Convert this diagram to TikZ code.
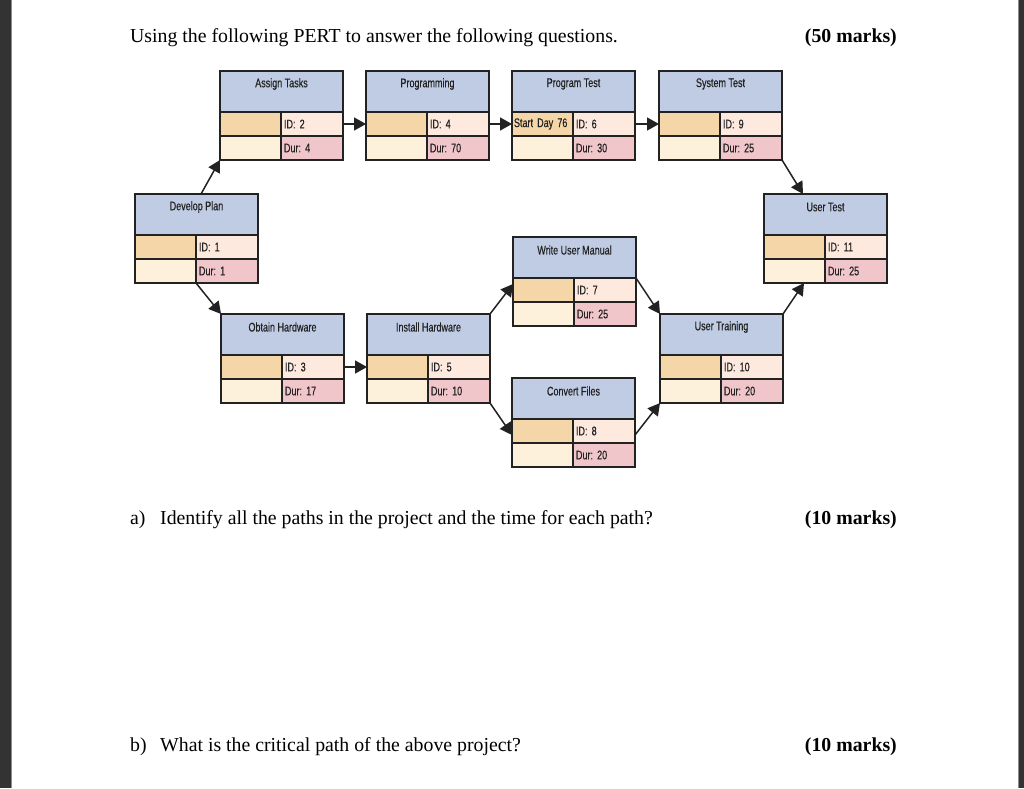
\documentclass[tikz,border=0pt]{standalone}
\usepackage{fontspec}
\setmainfont{Liberation Serif}
\newfontfamily\boxfont[FakeStretch=0.72,FakeBold=0.4]{Liberation Sans}
\newcommand\pertfnt{\boxfont\frenchspacing\fontsize{12.5}{13}\selectfont\spaceskip 0.2em\relax}
\usetikzlibrary{arrows.meta,calc}
\definecolor{hdr}{HTML}{BFCCE4}
\definecolor{idl}{HTML}{F5D6A8}
\definecolor{idr}{HTML}{FDE9DD}
\definecolor{durl}{HTML}{FEF1DC}
\definecolor{durr}{HTML}{F1C6CB}
\definecolor{edge}{HTML}{333333}
\definecolor{ink}{HTML}{222222}
\newcommand\pertbox[7]{%
  \node[hdrbox] (#1-h) at (#2,#3) {};
  \node[ttl] (#1-t) at ([yshift=-13pt]#1-h.north) {#4};
  \node[lcell,fill=idl] (#1-l1) at (#1-h.south west) {#7};
  \node[rcell,fill=idr] (#1-r1) at (#1-l1.north east) {ID: #5};
  \node[lcell,fill=durl] (#1-l2) at (#1-l1.south west) {};
  \node[rcell,fill=durr] (#1-r2) at (#1-l2.north east) {Dur: #6};
}
\begin{document}
\begin{tikzpicture}[x=1pt,y=-1pt,
  boxfnt/.style={font=\pertfnt},
  boxline/.style={draw=ink, line width=1.8pt, outer sep=0pt, inner sep=0pt, anchor=north west},
  hdrbox/.style={boxline, fill=hdr, minimum width=123pt, minimum height=41pt},
  ttl/.style={inner sep=0pt, text=ink, boxfnt},
  lcell/.style={boxline, minimum height=24pt, text width=57pt, inner xsep=2pt, align=left, text=ink, boxfnt},
  rcell/.style={boxline, minimum height=24pt, text width=56pt, inner xsep=3pt, align=left, text=ink, boxfnt},
  conn/.style={draw=ink, line width=1.5pt, -{Triangle[length=12pt,width=13pt]}},
  qtext/.style={inner sep=0pt, anchor=base west, font=\fontsize{19.8}{22}\selectfont},
  marks/.style={inner sep=0pt, anchor=base east, font=\bfseries\fontsize{19.8}{22}\selectfont}
]
\useasboundingbox (0,0) rectangle (1024,788);
\fill[white] (0,0) rectangle (1024,788);
\fill[edge] (0,0) rectangle (11,788);
\fill[edge] (1019,0) rectangle (1024,788);
\fill[black!45] (11,0) rectangle (12,788);
\fill[black!45] (1018,0) rectangle (1019,788);

\node[qtext] (q0) at (130,42) {Using the following PERT to answer the following questions.};
\node[marks] (m0) at (897,42) {(50 marks)};

\pertbox{dp}{135}{194}{Develop Plan}{1}{1}{}
\pertbox{at}{220}{71}{Assign Tasks}{2}{4}{}
\pertbox{pr}{366}{71}{Programming}{4}{70}{}
\pertbox{pt}{512}{71}{Program Test}{6}{30}{Start Day 76}
\pertbox{st}{659}{71}{System Test}{9}{25}{}
\pertbox{ut}{764}{194}{User Test}{11}{25}{}
\pertbox{wum}{513}{237}{Write User Manual}{7}{25}{}
\pertbox{oh}{221}{314}{Obtain Hardware}{3}{17}{}
\pertbox{ih}{367}{314}{Install Hardware}{5}{10}{}
\pertbox{cf}{512}{378}{Convert Files}{8}{20}{}
\pertbox{utr}{660}{314}{User Training}{10}{20}{}

\draw[conn] ([xshift=66pt]dp-h.north west) -- (at-l2.south west);
\draw[conn] (dp-l2.south east) -- (oh-h.north west);
\draw[conn] (at-r1.east) -- (pr-l1.west);
\draw[conn] (pr-r1.east) -- (pt-l1.west);
\draw[conn] (pt-r1.east) -- (st-l1.west);
\draw[conn] (st-r2.south east) -- ([xshift=39pt]ut-h.north west);
\draw[conn] (oh-r1.east) -- (ih-l1.west);
\draw[conn] (ih-h.north east) -- ([yshift=-6pt]wum-l1.north west);
\draw[conn] (ih-r2.south east) -- ([yshift=-4pt]cf-l1.west);
\draw[conn] (wum-r1.north east) -- (utr-h.north west);
\draw[conn] ([yshift=-4pt]cf-r1.east) -- (utr-l2.south west);
\draw[conn] (utr-h.north east) -- ([xshift=40pt]ut-l2.south west);

\node[qtext] (qa-l) at (130,524) {a)};
\node[qtext] (qa) at (160,524) {Identify all the paths in the project and the time for each path?};
\node[marks] (ma) at (897,524) {(10 marks)};
\node[qtext] (qb-l) at (130,751) {b)};
\node[qtext] (qb) at (160,751) {What is the critical path of the above project?};
\node[marks] (mb) at (897,751) {(10 marks)};
\end{tikzpicture}
\end{document}
